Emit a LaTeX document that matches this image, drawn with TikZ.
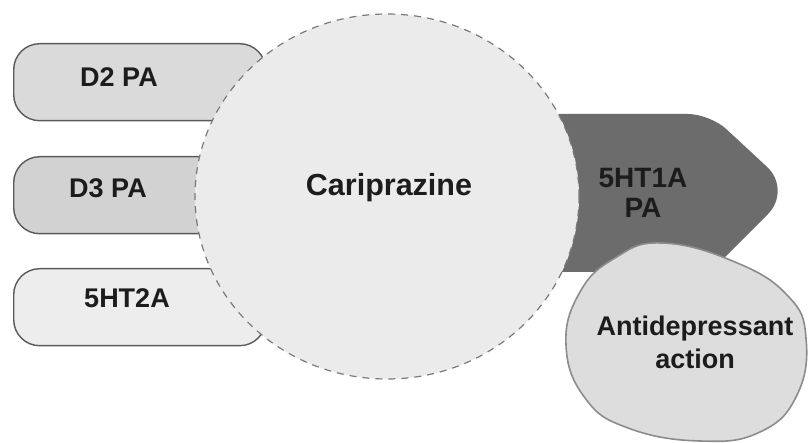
\documentclass[tikz,border=0pt]{standalone}
\usepackage{fontspec}
\setmainfont{Liberation Sans}
\usetikzlibrary{shapes.geometric}

\definecolor{txtcol}{HTML}{1C1C1C}
\definecolor{boxline}{HTML}{5A5A5A}
\definecolor{dtwofill}{HTML}{DADADA}
\definecolor{dthreefill}{HTML}{D2D2D2}
\definecolor{htwofill}{HTML}{EDEDED}
\definecolor{drugfill}{HTML}{EBEBEB}
\definecolor{drugline}{HTML}{7A7A7A}
\definecolor{htonefill}{HTML}{6C6C6C}
\definecolor{actfill}{HTML}{DDDDDD}
\definecolor{actline}{HTML}{8C8C8C}

\begin{document}
\begin{tikzpicture}[x=1pt,y=-1pt,
  pill/.style={draw=boxline, line width=1.4pt, rounded corners=26pt,
    minimum width=252pt, minimum height=77pt, anchor=north west, inner sep=0pt},
  lbl/.style={text=txtcol, font=\bfseries\fontsize{27}{31}\selectfont, align=center, inner sep=0pt},
  biglbl/.style={text=txtcol, font=\bfseries\fontsize{30.5}{36}\selectfont, align=center, inner sep=0pt}]
\useasboundingbox (0,0) rectangle (808,443);

% receptor pills on the left
\node[pill, fill=dtwofill]   (dtwo)   at (13,43)  {};
\node[pill, fill=dthreefill] (dthree) at (13,156) {};
\node[pill, fill=htwofill]   (htwo)   at (13,268) {};
\node[lbl] (dtwolab)   at (119,77)  {D2 PA};
\node[lbl] (dthreelab) at (108,188) {D3 PA};
\node[lbl] (htwolab)   at (127,298) {5HT2A};

% 5HT1A partial agonism arrow shape, with a blunt rounded tip
\fill[htonefill, rounded corners=22pt]
  (530,114) -- (710,114) [rounded corners=34pt] -- (792,190)
  [rounded corners=22pt] -- (710,272) -- (530,272) -- cycle;
\node[lbl, font=\bfseries\fontsize{28}{30}\selectfont] (htone) at (643,193) {5HT1A\\PA};

% central drug
\node[ellipse, fill=drugfill, draw=drugline, line width=1.2pt,
  dash pattern=on 7pt off 6pt, minimum width=384pt, minimum height=365pt,
  inner sep=0pt] (drug) at (387,196.5) {};
\node[biglbl] (druglab) at (389,188) {Cariprazine};

% antidepressant effect blob
\draw[fill=actfill, draw=actline, line width=1.6pt]
  plot[smooth cycle, tension=0.75] coordinates {
    (662,243) (735,262) (788,296) (806,338) (797,395) (760,432)
    (700,441) (628,428) (585,398) (566,345) (580,292) (615,258)};
\node[lbl, font=\bfseries\fontsize{27}{33}\selectfont] (act) at (695,342) {Antidepressant\\action};
\end{tikzpicture}
\end{document}
